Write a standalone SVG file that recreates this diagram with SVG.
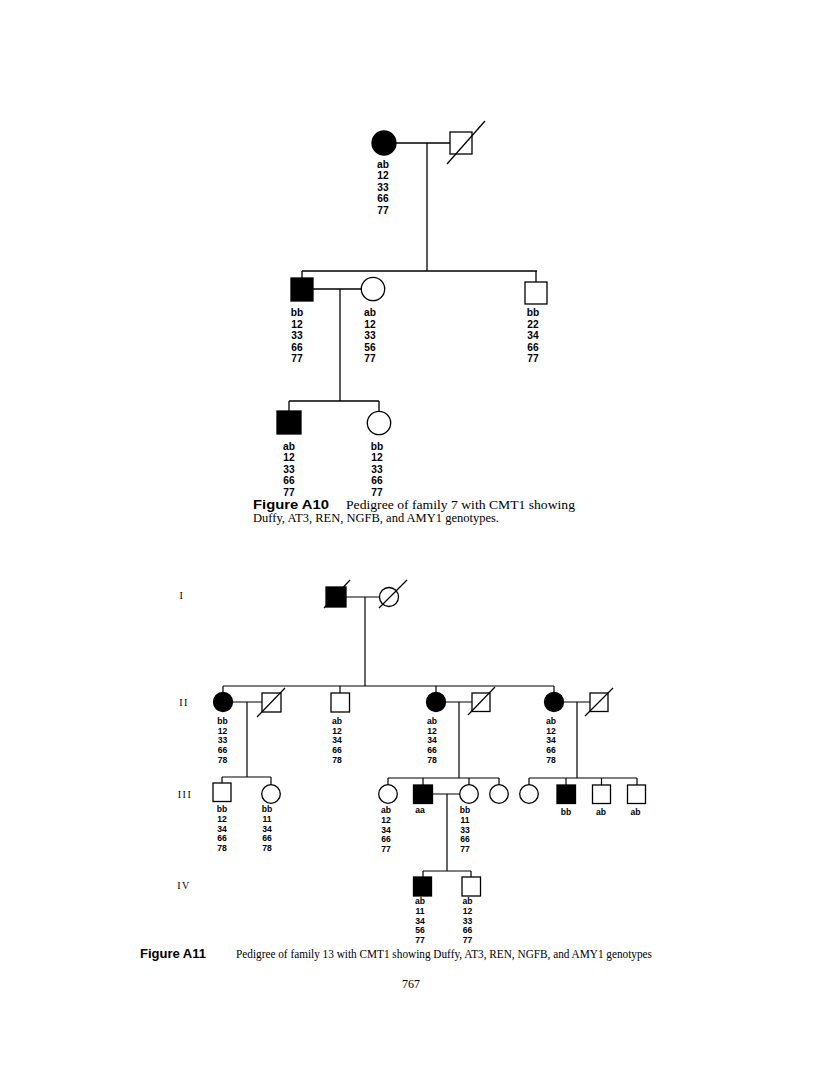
<svg xmlns="http://www.w3.org/2000/svg" width="816" height="1081" viewBox="0 0 816 1081">
<style>
.ln{stroke:#000;stroke-width:1.3;fill:none}
.ln2{stroke:#000;stroke-width:1.2;fill:none}
.aff{fill:#000;stroke:#000;stroke-width:1.3}
.un{fill:#fff;stroke:#000;stroke-width:1.3}
.g10{font-family:"Liberation Sans",Arial,sans-serif;font-weight:bold;font-size:10.2px;text-anchor:middle;fill:#000}
.g11{font-family:"Liberation Sans",Arial,sans-serif;font-weight:bold;font-size:8.6px;text-anchor:middle;fill:#000}
.gen{font-family:"Liberation Serif",serif;font-size:10px;letter-spacing:1.5px;text-anchor:middle;fill:#000}
.cap{font-family:"Liberation Serif",serif;font-size:12px;fill:#000}
.capb{font-family:"Liberation Sans",sans-serif;font-weight:bold;font-size:13px;fill:#000}
</style>
<rect width="816" height="1081" fill="#fff"/>

<!-- Figure A10 connectors -->
<g id="a10-connectors" class="ln">
<path d="M396 143 H450"/>
<path d="M427 143 V271"/>
<path d="M302 271 H537 M302 271 V278 M536 271 V282"/>
<path d="M313 289 H361"/>
<path d="M340 289 V401"/>
<path d="M289 401 H379 M289 401 V411 M379 401 V411.5"/>
</g>

<g id="a10-I1"><circle class="aff" cx="384" cy="143" r="12"/>
<text class="g10" y="167.5"><tspan x="383">ab</tspan><tspan x="383" dy="11.5">12</tspan><tspan x="383" dy="11.5">33</tspan><tspan x="383" dy="11.5">66</tspan><tspan x="383" dy="11.5">77</tspan></text></g>
<g id="a10-I2"><rect class="un" x="450" y="132" width="22" height="22"/><line class="ln" x1="447" y1="164" x2="485" y2="121"/></g>

<g id="a10-II1"><rect class="aff" x="291" y="278" width="22" height="23"/>
<text class="g10" y="316"><tspan x="297">bb</tspan><tspan x="297" dy="11.5">12</tspan><tspan x="297" dy="11.5">33</tspan><tspan x="297" dy="11.5">66</tspan><tspan x="297" dy="11.5">77</tspan></text></g>
<g id="a10-II2"><circle class="un" cx="373" cy="289" r="11.7"/>
<text class="g10" y="316"><tspan x="370">ab</tspan><tspan x="370" dy="11.5">12</tspan><tspan x="370" dy="11.5">33</tspan><tspan x="370" dy="11.5">56</tspan><tspan x="370" dy="11.5">77</tspan></text></g>
<g id="a10-II3"><rect class="un" x="525" y="282" width="22" height="22"/>
<text class="g10" y="316"><tspan x="533">bb</tspan><tspan x="533" dy="11.5">22</tspan><tspan x="533" dy="11.5">34</tspan><tspan x="533" dy="11.5">66</tspan><tspan x="533" dy="11.5">77</tspan></text></g>

<g id="a10-III1"><rect class="aff" x="277" y="411" width="24" height="23"/>
<text class="g10" y="449.5"><tspan x="289">ab</tspan><tspan x="289" dy="11.5">12</tspan><tspan x="289" dy="11.5">33</tspan><tspan x="289" dy="11.5">66</tspan><tspan x="289" dy="11.5">77</tspan></text></g>
<g id="a10-III2"><circle class="un" cx="379" cy="423" r="11.7"/>
<text class="g10" y="449.5"><tspan x="377">bb</tspan><tspan x="377" dy="11.5">12</tspan><tspan x="377" dy="11.5">33</tspan><tspan x="377" dy="11.5">66</tspan><tspan x="377" dy="11.5">77</tspan></text></g>

<g id="a10-caption">
<text class="capb" x="253" y="508.5" textLength="76" lengthAdjust="spacingAndGlyphs">Figure A10</text>
<text class="cap" x="346" y="508.5" textLength="229" lengthAdjust="spacingAndGlyphs">Pedigree of family 7 with CMT1 showing</text>
<text class="cap" x="253" y="522" textLength="246" lengthAdjust="spacingAndGlyphs">Duffy, AT3, REN, NGFB, and AMY1 genotypes.</text>
</g>

<!-- Figure A11 -->
<g id="a11-gen-labels">
<text class="gen" x="182" y="598.5">I</text>
<text class="gen" x="184" y="706">II</text>
<text class="gen" x="185" y="797.5">III</text>
<text class="gen" x="184" y="889">IV</text>
</g>

<g id="a11-connectors" class="ln2">
<path d="M346 597 H380"/>
<path d="M365 597 V686"/>
<path d="M223 686 H554 M223 686 V692.5 M340 686 V693 M436 686 V692.5 M554 686 V692.5"/>
<path d="M232 702 H262 M247 702 V777"/>
<path d="M445 702 H472 M459 702 V778"/>
<path d="M563 702 H590 M577 702 V778"/>
<path d="M222 777 H271 M222 777 V783 M271 777 V784.7"/>
<path d="M388 778 H499 M388 778 V784.7 M423 778 V785 M469 778 V784.7 M499 778 V784.7"/>
<path d="M433 794 H460 M447 794 V871"/>
<path d="M529 778 H637 M529 778 V784.7 M566 778 V785 M601.5 778 V785 M637 778 V785"/>
<path d="M423 871 H471 M423 871 V877 M471 871 V877"/>
</g>

<g id="a11-I1"><rect class="aff" x="326" y="587" width="20" height="20"/><line class="ln2" x1="324" y1="608" x2="350" y2="580"/></g>
<g id="a11-I2"><circle class="un" cx="389" cy="597" r="9.5"/><line class="ln2" x1="379" y1="608" x2="407" y2="580"/></g>

<g id="a11-II1"><circle class="aff" cx="223" cy="702" r="9.5"/>
<text class="g11" y="724"><tspan x="222.5">bb</tspan><tspan x="222.5" dy="9.7">12</tspan><tspan x="222.5" dy="9.7">33</tspan><tspan x="222.5" dy="9.7">66</tspan><tspan x="222.5" dy="9.7">78</tspan></text></g>
<g id="a11-II2"><rect class="un" x="262" y="693" width="19" height="19"/><line class="ln2" x1="257" y1="717" x2="285" y2="688"/></g>
<g id="a11-II3"><rect class="un" x="331" y="693" width="18.5" height="19"/>
<text class="g11" y="724"><tspan x="337">ab</tspan><tspan x="337" dy="9.7">12</tspan><tspan x="337" dy="9.7">34</tspan><tspan x="337" dy="9.7">66</tspan><tspan x="337" dy="9.7">78</tspan></text></g>
<g id="a11-II4"><circle class="aff" cx="436" cy="702" r="9.5"/>
<text class="g11" y="724"><tspan x="432">ab</tspan><tspan x="432" dy="9.7">12</tspan><tspan x="432" dy="9.7">34</tspan><tspan x="432" dy="9.7">66</tspan><tspan x="432" dy="9.7">78</tspan></text></g>
<g id="a11-II5"><rect class="un" x="472" y="693" width="18" height="18.5"/><line class="ln2" x1="468" y1="715" x2="495" y2="687"/></g>
<g id="a11-II6"><circle class="aff" cx="554" cy="702" r="9.5"/>
<text class="g11" y="724"><tspan x="551">ab</tspan><tspan x="551" dy="9.7">12</tspan><tspan x="551" dy="9.7">34</tspan><tspan x="551" dy="9.7">66</tspan><tspan x="551" dy="9.7">78</tspan></text></g>
<g id="a11-II7"><rect class="un" x="590" y="693" width="18" height="18.5"/><line class="ln2" x1="585" y1="716" x2="613" y2="688"/></g>

<g id="a11-III1"><rect class="un" x="213" y="783" width="18" height="18.5"/>
<text class="g11" y="812.3"><tspan x="222">bb</tspan><tspan x="222" dy="9.7">12</tspan><tspan x="222" dy="9.7">34</tspan><tspan x="222" dy="9.7">66</tspan><tspan x="222" dy="9.7">78</tspan></text></g>
<g id="a11-III2"><circle class="un" cx="271" cy="794" r="9.3"/>
<text class="g11" y="812.3"><tspan x="267">bb</tspan><tspan x="267" dy="9.7">11</tspan><tspan x="267" dy="9.7">34</tspan><tspan x="267" dy="9.7">66</tspan><tspan x="267" dy="9.7">78</tspan></text></g>
<g id="a11-III3"><circle class="un" cx="388" cy="794" r="9.3"/>
<text class="g11" y="813.3"><tspan x="386">ab</tspan><tspan x="386" dy="9.7">12</tspan><tspan x="386" dy="9.7">34</tspan><tspan x="386" dy="9.7">66</tspan><tspan x="386" dy="9.7">77</tspan></text></g>
<g id="a11-III4"><rect class="aff" x="413.5" y="785" width="19" height="18.5"/>
<text class="g11" x="420" y="813.3">aa</text></g>
<g id="a11-III5"><circle class="un" cx="469" cy="794" r="9.3"/>
<text class="g11" y="813.3"><tspan x="465">bb</tspan><tspan x="465" dy="9.7">11</tspan><tspan x="465" dy="9.7">33</tspan><tspan x="465" dy="9.7">66</tspan><tspan x="465" dy="9.7">77</tspan></text></g>
<g id="a11-III6"><circle class="un" cx="499" cy="794" r="9.3"/></g>
<g id="a11-III7"><circle class="un" cx="529" cy="794" r="9.3"/></g>
<g id="a11-III8"><rect class="aff" x="557" y="785" width="18.5" height="18.5"/>
<text class="g11" x="566" y="814.7">bb</text></g>
<g id="a11-III9"><rect class="un" x="592.5" y="785" width="18" height="18.5"/>
<text class="g11" x="601" y="814.7">ab</text></g>
<g id="a11-III10"><rect class="un" x="627.5" y="785" width="18" height="18.5"/>
<text class="g11" x="635.5" y="814.7">ab</text></g>

<g id="a11-IV1"><rect class="aff" x="413.5" y="877" width="18" height="19"/>
<text class="g11" y="904"><tspan x="420">ab</tspan><tspan x="420" dy="9.8">11</tspan><tspan x="420" dy="9.8">34</tspan><tspan x="420" dy="9.8">56</tspan><tspan x="420" dy="9.8">77</tspan></text></g>
<g id="a11-IV2"><rect class="un" x="462" y="877" width="18.5" height="19"/>
<text class="g11" y="904"><tspan x="467.5">ab</tspan><tspan x="467.5" dy="9.8">12</tspan><tspan x="467.5" dy="9.8">33</tspan><tspan x="467.5" dy="9.8">66</tspan><tspan x="467.5" dy="9.8">77</tspan></text></g>

<g id="a11-caption">
<text class="capb" x="140" y="958" textLength="66" lengthAdjust="spacingAndGlyphs">Figure A11</text>
<text class="cap" x="236" y="958" font-size="11" textLength="416" lengthAdjust="spacingAndGlyphs">Pedigree of family 13 with CMT1 showing Duffy, AT3, REN, NGFB, and AMY1 genotypes</text>
</g>
<text class="cap" x="411" y="988" font-size="16" text-anchor="middle">767</text>
</svg>
